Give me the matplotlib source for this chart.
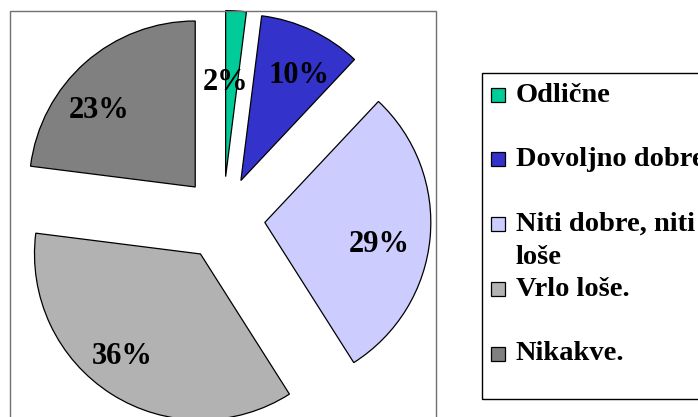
import matplotlib
matplotlib.use('Agg')
import numpy as np
import matplotlib.pyplot as plt
from matplotlib.patches import Rectangle

categories = ['Odlične', 'Dovoljno dobre', 'Niti dobre, niti\nloše', 'Vrlo loše.', 'Nikakve.']
values = [2, 10, 29, 36, 23]
colors = ['#00CC99', '#3333CC', '#CCCCFF', '#B2B2B2', '#808080']

W, H = 698, 417
FAMILY = 'Liberation Serif'

fig = plt.figure(figsize=(W / 100, H / 100), dpi=100)
ax = fig.add_axes([0, 0, 1, 1])

wedges, texts, autotexts = ax.pie(
    values, colors=colors, startangle=90, counterclock=False,
    explode=[42] * len(values), radius=166, center=(223, 198.5),
    autopct=lambda p: f'{p:.0f}%', pctdistance=0.72,
    wedgeprops=dict(edgecolor='black', linewidth=0.9),
    textprops=dict(fontfamily=FAMILY, fontweight='bold', fontsize=22))

# Excel-style label placement nudges (pixels, x right / y up)
label_nudge = [(-8, -25), (7, -3), (-5, -11), (-14, -2), (-17, -13)]
for t, (dx, dy) in zip(autotexts, label_nudge):
    x, y = t.get_position()
    t.set_position((x + dx, y + dy))

ax.set_xlim(0, W)
ax.set_ylim(0, H)
ax.set_aspect('equal')
ax.axis('off')

# plot-area border
ax.add_patch(Rectangle((10, -5), 426, 411, fill=False, edgecolor='#707070', lw=1.0, clip_on=False))
# legend border
ax.add_patch(Rectangle((482, H - 399), 230, 326, fill=False, edgecolor='black', lw=1.0, clip_on=False))

# legend entries (Excel layout: handle aligned with first text line)
first_y = H - 94.5
step = 64.75
line_pitch = 33.5
sq = 14
for i, (lab, col) in enumerate(zip(categories, colors)):
    yc = first_y - i * step
    ax.add_patch(Rectangle((491, yc - sq / 2), sq, sq, facecolor=col, edgecolor='black',
                           lw=0.9, clip_on=False))
    for j, line in enumerate(lab.split('\n')):
        ax.text(516, yc - 7 - j * line_pitch, line, ha='left', va='baseline',
                fontfamily=FAMILY, fontweight='bold', fontsize=20.5, clip_on=False)

fig.savefig('out.png', dpi=100)
